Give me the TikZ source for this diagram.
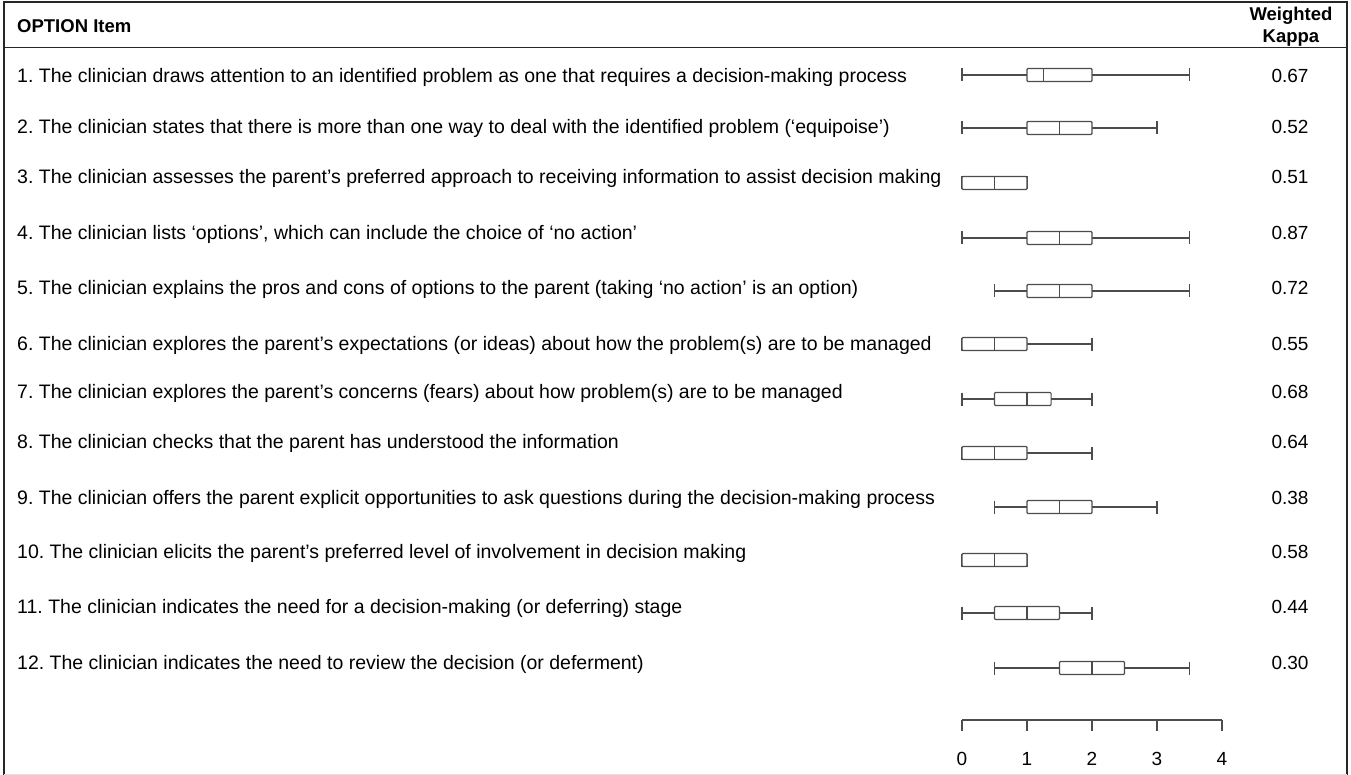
\documentclass[tikz,border=0pt]{standalone}
\usepackage{fontspec}
\setmainfont{Liberation Sans}
\frenchspacing
\begin{document}
\begin{tikzpicture}[x=1pt,y=-1pt,
  itemtext/.style={anchor=base west,inner sep=0pt,font=\fontsize{19.5}{23}\selectfont},
  kappatext/.style={anchor=base,inner sep=0pt,font=\fontsize{19}{22}\selectfont},
  headtext/.style={inner sep=0pt,font=\bfseries\fontsize{18.5}{22}\selectfont},
  frameline/.style={draw=black!85,line width=1.3pt},
  plotline/.style={draw=black!70,line width=1.1pt}]
\useasboundingbox (0,0) rectangle (1351,775);
% frame and header rule
\draw[frameline] (4,775) -- (4,2) -- (1347,2) -- (1347,775);
\draw[black!12] (4,774) -- (1347,774);
\draw[frameline,line width=1pt] (4,48) -- (1347,48);
% header
\node[headtext,anchor=base west] (head) at (17,33) {OPTION Item};
\node[headtext,align=center] (weighted) at (1291,27) {Weighted\\Kappa};
% items: n / text baseline / plot y / min / q1 / median / q3 / max / kappa / text
\foreach \n/\yt/\yb/\lo/\qa/\md/\qb/\hi/\kap/\txt in {
  1/83/75/0/1/1.25/2/3.5/0.67/{The clinician draws attention to an identified problem as one that requires a decision-making process},
  2/134/128/0/1/1.5/2/3/0.52/{The clinician states that there is more than one way to deal with the identified problem (‘equipoise’)},
  3/184/183/0/0/0.5/1/1/0.51/{The clinician assesses the parent’s preferred approach to receiving information to assist decision making},
  4/240/238/0/1/1.5/2/3.5/0.87/{The clinician lists ‘options’, which can include the choice of ‘no action’},
  5/295/291/0.5/1/1.5/2/3.5/0.72/{The clinician explains the pros and cons of options to the parent (taking ‘no action’ is an option)},
  6/350/344/0/0/0.5/1/2/0.55/{The clinician explores the parent’s expectations (or ideas) about how the problem(s) are to be managed},
  7/398/399/0/0.5/1/1.37/2/0.68/{The clinician explores the parent’s concerns (fears) about how problem(s) are to be managed},
  8/448/453/0/0/0.5/1/2/0.64/{The clinician checks that the parent has understood the information},
  9/504/507/0.5/1/1.5/2/3/0.38/{The clinician offers the parent explicit opportunities to ask questions during the decision-making process},
  10/558/560/0/0/0.5/1/1/0.58/{The clinician elicits the parent’s preferred level of involvement in decision making},
  11/613/613/0/0.5/1/1.5/2/0.44/{The clinician indicates the need for a decision-making (or deferring) stage},
  12/669/668/0.5/1.5/2/2.5/3.5/0.30/{The clinician indicates the need to review the decision (or deferment)}}
{
  \node[itemtext] (item\n) at (17,\yt) {\n. \txt};
  \node[kappatext] (kappa\n) at (1290,\yt) {\kap};
  % box plot
  \draw[plotline] ({962+65*\lo},\yb) -- ({962+65*\qa},\yb)
    ({962+65*\qb},\yb) -- ({962+65*\hi},\yb)
    ({962+65*\lo},\yb-6.5) -- ({962+65*\lo},\yb+6.5)
    ({962+65*\hi},\yb-6.5) -- ({962+65*\hi},\yb+6.5);
  \draw[plotline,fill=white,rounded corners=1pt] ({962+65*\qa},\yb-6.5) rectangle ({962+65*\qb},\yb+6.5);
  \draw[plotline] ({962+65*\md},\yb-6.5) -- ({962+65*\md},\yb+6.5);
}
% axis
\draw[plotline] (962,720) -- (1222,720);
\foreach \t in {0,...,4}
{
  \draw[plotline] ({962+65*\t},720) -- ({962+65*\t},731);
  \node[kappatext] (tick\t) at ({962+65*\t},765) {\t};
}
\end{tikzpicture}
\end{document}
